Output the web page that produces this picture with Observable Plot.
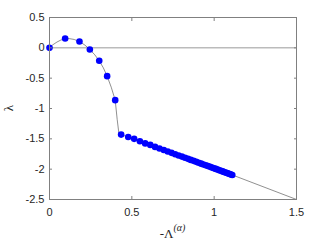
<!DOCTYPE html>
<html>
<head>
<meta charset="utf-8">
<script src="https://cdn.jsdelivr.net/npm/d3@7"></script>
<script src="https://cdn.jsdelivr.net/npm/@observablehq/plot@0.6"></script>
<style>
  html, body { margin: 0; padding: 0; background: #fff; }
  #chart { width: 327px; height: 245px; }
</style>
</head>
<body>
<div id="chart"></div>
<script>
// Blue dots
const dotX = [0, 0.095, 0.182, 0.245, 0.302, 0.350, 0.399,
  0.435, 0.478, 0.514, 0.549, 0.581, 0.612, 0.641, 0.668, 0.694, 0.718, 0.741, 0.763,
  0.784, 0.804, 0.823, 0.841, 0.858, 0.875, 0.891, 0.906, 0.921, 0.935, 0.949, 0.962,
  0.975, 0.987, 0.999, 1.010, 1.021, 1.031, 1.041, 1.051, 1.060, 1.069, 1.078, 1.086,
  1.094, 1.102, 1.110];
const dotY = [0, 0.153, 0.104, -0.028, -0.214, -0.467, -0.862,
  -1.430, -1.470, -1.500, -1.540, -1.575, -1.600, -1.633, -1.660, -1.685, -1.709, -1.731, -1.753,
  -1.774, -1.793, -1.812, -1.830, -1.847, -1.863, -1.879, -1.894, -1.909, -1.923, -1.936, -1.949,
  -1.962, -1.974, -1.986, -1.996, -2.007, -2.017, -2.027, -2.037, -2.046, -2.054, -2.063, -2.071,
  -2.079, -2.087, -2.095];
// Thin black curve (head part, then through the dots, then tail)
const headX = [0, 0.02, 0.045, 0.07, 0.095, 0.12, 0.15, 0.182, 0.215, 0.245, 0.275, 0.302, 0.327, 0.350, 0.375, 0.399, 0.411, 0.421];
const headY = [0, 0.05, 0.095, 0.13, 0.150, 0.152, 0.138, 0.104, 0.045, -0.028, -0.115, -0.214, -0.33, -0.467, -0.65, -0.862, -1.18, -1.40];
const tailX = [1.5];
const tailY = [-2.5];
const xTicks = [0, 0.5, 1, 1.5];
const yTicks = [-2.5, -2, -1.5, -1, -0.5, 0, 0.5];

const dots = dotX.map((x, i) => ({x, y: dotY[i]}));
const lineX = headX.concat(dotX.slice(7), tailX);
const lineY = headY.concat(dotY.slice(7), tailY);
const line = lineX.map((x, i) => ({x, y: lineY[i]}));

const axisColor = "#808080";
const fmt = d => String(d);

const plot = Plot.plot({
  width: 327,
  height: 245,
  marginLeft: 49,
  marginRight: 31,
  marginTop: 17,
  marginBottom: 46,
  style: {fontFamily: "'Liberation Sans', Arial, sans-serif", fontSize: "11px", color: "#262626", background: "#fff"},
  x: {domain: [0, 1.5]},
  y: {domain: [-2.5, 0.5]},
  marks: [
    Plot.ruleY([0], {stroke: axisColor, strokeWidth: 0.8}),
    Plot.line(line, {x: "x", y: "y", stroke: "#444", strokeWidth: 0.6}),
    Plot.dot(dots, {x: "x", y: "y", r: 3.3, fill: "#0000ff", stroke: "none"}),
    Plot.frame({stroke: axisColor, strokeWidth: 1}),
    Plot.axisX({anchor: "bottom", ticks: xTicks, tickSize: -3, tickFormat: () => "", stroke: axisColor, label: null}),
    Plot.axisX({anchor: "top", ticks: xTicks, tickSize: -3, tickFormat: () => "", stroke: axisColor, label: null}),
    Plot.axisY({anchor: "left", ticks: yTicks, tickSize: -3, tickFormat: () => "", stroke: axisColor, label: null}),
    Plot.axisY({anchor: "right", ticks: yTicks, tickSize: -3, tickFormat: () => "", stroke: axisColor, label: null}),
    Plot.axisX({anchor: "bottom", ticks: xTicks, tickSize: 0, tickPadding: 9, tickFormat: fmt, label: null, fill: "#262626"}),
    Plot.axisY({anchor: "left", ticks: yTicks, tickSize: 0, tickPadding: 5, tickFormat: fmt, label: null, fill: "#262626"})
  ]
});
document.getElementById("chart").appendChild(plot);

const svg = d3.select(plot);
// y label: lambda
svg.append("text")
  .attr("transform", "translate(12.5,108) rotate(-90)")
  .attr("text-anchor", "middle")
  .attr("font-family", "'Liberation Serif', 'Times New Roman', serif")
  .attr("font-size", 13)
  .attr("fill", "#262626")
  .text("λ");
// x label: -Λ^(α)
const xl = svg.append("text")
  .attr("x", 172.5)
  .attr("y", 238)
  .attr("text-anchor", "middle")
  .attr("font-family", "'Liberation Serif', 'Times New Roman', serif")
  .attr("font-size", 13)
  .attr("fill", "#262626");
xl.append("tspan").text("-Λ");
xl.append("tspan").attr("dy", -7).attr("font-size", 10).attr("font-style", "italic").text("(α)");
</script>
</body>
</html>
